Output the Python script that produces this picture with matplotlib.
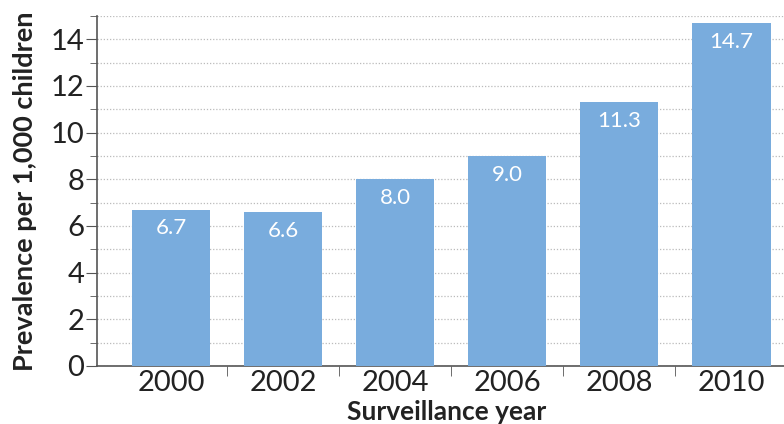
import matplotlib.pyplot as plt
from matplotlib.ticker import MultipleLocator, FixedLocator

plt.rcParams['font.family'] = ['Lato', 'DejaVu Sans']

# data
years = ["2000", "2002", "2004", "2006", "2008", "2010"]
prevalence = [6.7, 6.6, 8.0, 9.0, 11.3, 14.7]
labels = ["6.7", "6.6", "8.0", "9.0", "11.3", "14.7"]

BAR_COLOR = "#79acdd"
AXIS_COLOR = "#555555"

fig = plt.figure(figsize=(7.84, 4.24), dpi=100)
ax = fig.add_axes([97 / 784, 1 - 366 / 424, 1 - 97 / 784, (366 - 16) / 424])

x = list(range(len(years)))
bars = ax.bar(x, prevalence, width=0.7, color=BAR_COLOR, zorder=3)

for b, lab in zip(bars, labels):
    ax.annotate(lab, (b.get_x() + b.get_width() / 2, b.get_height()),
                xytext=(0, -13.5), textcoords="offset points",
                ha="center", va="center", color="white", fontsize=16, zorder=4)

ax.set_ylim(0, 15)
ax.set_xlim(-0.66, 5.47)

# y axis: labels on even numbers, dotted grid on every integer
ax.yaxis.set_major_locator(MultipleLocator(2))
ax.yaxis.set_minor_locator(MultipleLocator(1))
ax.grid(axis="y", which="both", linestyle=(0, (1, 1.5)), color="#bbbbbb", linewidth=0.9, zorder=0)
ax.tick_params(axis="y", which="major", length=8, color=AXIS_COLOR, labelsize=21, labelcolor="#222222", pad=1)
ax.tick_params(axis="y", which="minor", length=5, color=AXIS_COLOR)

# x axis: ticks between categories, labels at bar centres
ax.set_xticks(x)
ax.set_xticklabels(years)
ax.xaxis.set_minor_locator(FixedLocator([i + 0.5 for i in range(len(years) - 1)]))
ax.tick_params(axis="x", which="major", length=0, labelsize=21, labelcolor="#222222", pad=3)
ax.tick_params(axis="x", which="minor", length=7, color=AXIS_COLOR)

for side in ["top", "right"]:
    ax.spines[side].set_visible(False)
ax.spines["left"].set_color(AXIS_COLOR)
ax.spines["bottom"].set_color(AXIS_COLOR)
ax.spines["left"].set_linewidth(1.2)
ax.spines["bottom"].set_linewidth(1.2)

ax.set_ylabel("Prevalence per 1,000 children", fontsize=19.5, fontweight="bold", color="#222222")
ax.yaxis.set_label_coords(-0.088, 0.5)
ax.set_xlabel("Surveillance year", fontsize=19, fontweight="bold", color="#222222", labelpad=0)
ax.xaxis.set_label_coords((447 - 97) / (784 - 97), -0.097)

fig.savefig("out.png", dpi=100)
